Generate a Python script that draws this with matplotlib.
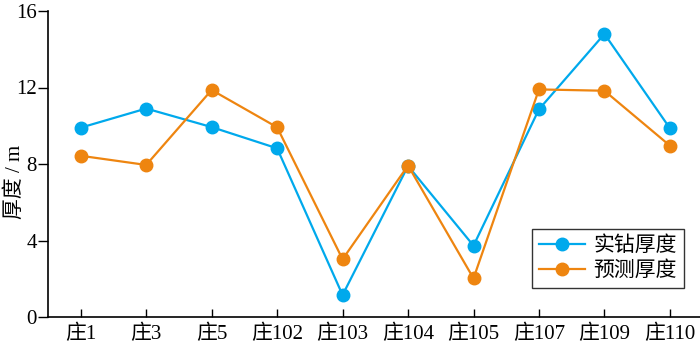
import matplotlib
matplotlib.use("Agg")
import matplotlib.pyplot as plt

categories = ["庄1", "庄3", "庄5", "庄102", "庄103", "庄104", "庄105", "庄107", "庄109", "庄110"]
actual = [9.9, 10.9, 9.93, 8.82, 1.15, 7.9, 3.73, 10.86, 14.8, 9.87]
predicted = [8.43, 7.95, 11.87, 9.92, 3.02, 7.92, 2.02, 11.9, 11.83, 8.96]
yticks = [0, 4, 8, 12, 16]

plt.rcParams['font.family'] = ['Liberation Serif', 'Noto Sans CJK SC']

fig = plt.figure(figsize=(7, 3.5), dpi=100)
ax = fig.add_axes([48/700, 33/350, 1 - 48/700, 306/350])

x = list(range(len(categories)))
blue = "#00a9ec"
orange = "#ee8510"
ax.plot(x, actual, '-o', color=blue, lw=1.6, ms=9, label="实钻厚度", zorder=3)
ax.plot(x, predicted, '-o', color=orange, lw=1.6, ms=9, label="预测厚度", zorder=3)

ax.set_xlim(-0.5, 9.46)
ax.set_ylim(0, 16)
ax.set_yticks(yticks)
ax.set_yticklabels([str(v) for v in yticks], fontsize=15)
ax.set_xticks(x)
ax.set_xticklabels(categories, fontsize=15)
ax.tick_params(axis='x', direction='in', length=6, width=1, pad=6)
ax.tick_params(axis='y', direction='out', length=7, width=1, pad=1)
for s in ['top', 'right']:
    ax.spines[s].set_visible(False)
for s in ['left', 'bottom']:
    ax.spines[s].set_linewidth(1.2)

ax.set_ylabel("厚度 / m", fontsize=15)
ax.yaxis.set_label_coords(-23/652, 0.44)

leg = ax.legend(loc='lower right', bbox_to_anchor=(0.976, 0.094), fontsize=15,
                frameon=True, fancybox=False, edgecolor='black',
                handlelength=2.2, handletextpad=0.4, borderpad=0.35, labelspacing=0.25,
                borderaxespad=0)
leg.get_frame().set_linewidth(1.0)

fig.savefig("out.png", dpi=100)
